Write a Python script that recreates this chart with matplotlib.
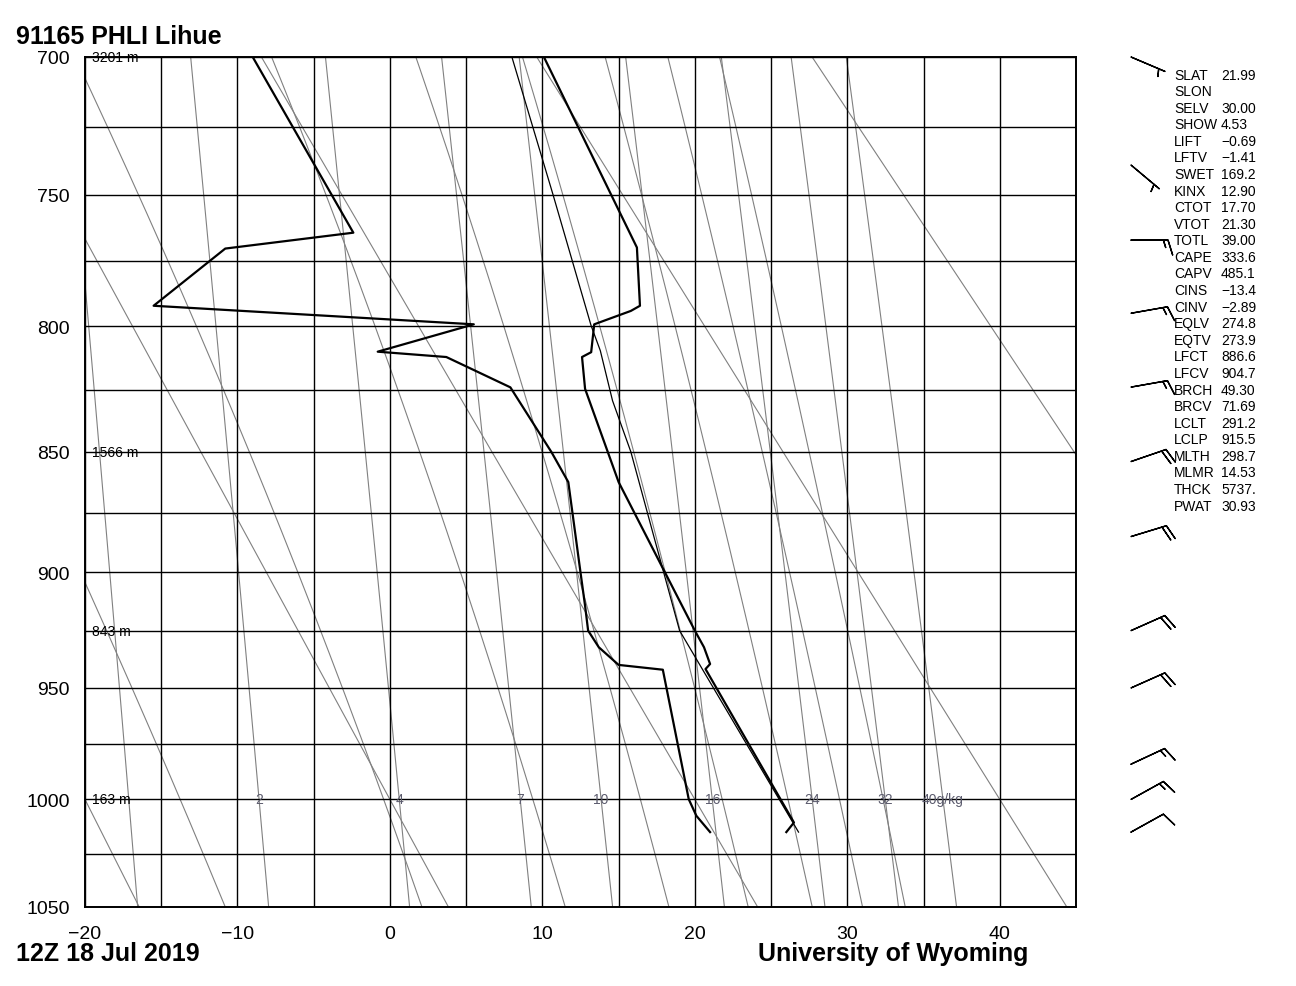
import numpy as np
import matplotlib.pyplot as plt

plt.rcParams['font.family'] = ['Liberation Sans', 'DejaVu Sans']

# sounding (hPa, degC)
pres_t = [700, 769.8, 792.1, 794.1, 799.3, 810.2, 812.1, 824.7, 862.4, 925.0, 932.2, 939.5, 941.7, 1010.6, 1015]
temp = [10.1, 16.2, 16.4, 15.8, 13.4, 13.2, 12.6, 12.8, 15.0, 20.0, 20.6, 21.0, 20.7, 26.5, 26.0]

pres_td = [700, 764.2, 770.2, 792.1, 799.3, 810.0, 812.1, 824.1, 850.2, 862.4, 900.1, 914.3, 925.0,
           932.2, 939.9, 942.0, 999.9, 1007.5, 1015]
dwpt = [-9.0, -2.4, -10.8, -15.5, 5.5, -0.8, 3.7, 7.9, 10.6, 11.7, 12.5, 12.8, 13.0,
        13.7, 15.0, 17.9, 19.6, 20.1, 21.0]

# lifted parcel (thin line)
pres_parcel = [1015, 925, 884.7, 850, 829.4, 809.6, 799.9, 750, 700]
temp_parcel = [26.8, 19.0, 17.3, 15.8, 14.6, 13.8, 13.2, 10.7, 8.0]

# winds
barb_p = [700, 739, 767, 795, 824, 854, 885, 925, 950, 984, 1000, 1015]
barb_dir = [113, 130, 90, 80, 80, 71, 73, 66, 66, 65, 61, 61]
barb_spd = [5, 5, 15, 15, 15, 20, 20, 20, 20, 15, 15, 10]

# height labels
hgt_p = [700, 850, 925, 1000]
hgt_lab = ['3201 m', '1566 m', '843 m', '163 m']

# background lines
theta_dry = [-20, 0, 20, 40, 60]             # degC
moist_t1050 = [-10.8, 2.1, 11.5, 18.3, 23.5, 27.7, 31.0, 33.8]  # degC at 1050 hPa
mixr = [1, 2, 4, 7, 10, 16, 24, 32, 40]       # g/kg
mixr_lab = ['', '2', '4', '7', '10', '16', '24', '32', '40g/kg']

# station parameters
names = ['SLAT', 'SLON', 'SELV', 'SHOW', 'LIFT', 'LFTV', 'SWET', 'KINX', 'CTOT', 'VTOT', 'TOTL',
         'CAPE', 'CAPV', 'CINS', 'CINV', 'EQLV', 'EQTV', 'LFCT', 'LFCV', 'BRCH', 'BRCV', 'LCLT',
         'LCLP', 'MLTH', 'MLMR', 'THCK', 'PWAT']
values = ['21.99', '', '30.00', '4.53', '\u22120.69', '\u22121.41', '169.2', '12.90', '17.70',
          '21.30', '39.00', '333.6', '485.1', '\u221213.4', '\u22122.89', '274.8', '273.9',
          '886.6', '904.7', '49.30', '71.69', '291.2', '915.5', '298.7', '14.53', '5737.', '30.93']

KAP = 0.286


def fwd(p):
    p = np.asarray(p, dtype=float)
    return np.sign(p) * np.abs(p) ** KAP


def inv(y):
    y = np.asarray(y, dtype=float)
    return np.sign(y) * np.abs(y) ** (1 / KAP)


def td_from_w(w, p):
    e = w / 1000 * p / (0.622 + w / 1000)
    a = np.log(e / 6.112)
    return 243.5 * a / (17.67 - a)


def moist_lapse(T, p):
    Rd, cp, Lv, eps = 287.04, 1005.7, 2.501e6, 0.622
    es = 6.112 * np.exp(17.67 * (T - 273.15) / (T - 29.65))
    rs = eps * es / (p - es)
    return (Rd * T + Lv * rs) / (p * (cp + Lv * Lv * rs * eps / (Rd * T * T)))


W, H = 1296, 987
fig = plt.figure(figsize=(W / 100, H / 100), dpi=100)
L, R, T0, B = 85, 1076, 58, 908
ax = fig.add_axes([L / W, 1 - B / H, (R - L) / W, (B - T0) / H])
ax.set_yscale('function', functions=(fwd, inv))
ax.set_ylim(1050, 700)
ax.set_xlim(-20, 45)

plev = np.linspace(1050, 690, 361)
gray = dict(color='#808080', lw=0.8, zorder=1)

for th in theta_dry:
    ax.plot((th + 273.15) * (plev / 1000) ** KAP - 273.15, plev, **gray)

for w in mixr:
    ax.plot(td_from_w(w, plev), plev, **gray)

for t0 in moist_t1050:
    tk = [t0 + 273.15]
    for p0, p1 in zip(plev[:-1], plev[1:]):
        dp = p1 - p0
        k1 = moist_lapse(tk[-1], p0)
        k2 = moist_lapse(tk[-1] + k1 * dp / 2, p0 + dp / 2)
        tk.append(tk[-1] + k2 * dp)
    ax.plot(np.array(tk) - 273.15, plev, **gray)

ax.plot(temp_parcel, pres_parcel, color='black', lw=0.9, zorder=3)
ax.plot(temp, pres_t, color='black', lw=1.6, zorder=4)
ax.plot(dwpt, pres_td, color='black', lw=1.6, zorder=4)

# grid and ticks
ax.set_xticks(np.arange(-20, 41, 10))
ax.set_xticks(np.arange(-15, 46, 10), minor=True)
ax.set_yticks(np.arange(700, 1051, 50))
ax.set_yticks(np.arange(725, 1050, 50), minor=True)
ax.set_yticklabels([str(p) for p in range(700, 1051, 50)])
ax.grid(True, which='both', color='black', lw=1.0, zorder=2)
ax.tick_params(which='both', length=0, labelsize=14)
ax.tick_params(axis='y', pad=11)
ax.tick_params(axis='x', pad=13)
for s in ax.spines.values():
    s.set_linewidth(1.4)
    s.set_zorder(5)

lab_col = '#5c5c6e'
for w, lab in zip(mixr, mixr_lab):
    if lab:
        ax.text(td_from_w(w, 1000.0), 1000, lab, ha='center', va='center', fontsize=10,
                color=lab_col, zorder=6)

for p, lab in zip(hgt_p, hgt_lab):
    ax.text(0.0068, p, lab, transform=ax.get_yaxis_transform(), ha='left', va='center',
            fontsize=10, zorder=6)

# wind barbs column
bx0, bw = 1120, 80
bax = fig.add_axes([bx0 / W, 1 - B / H, bw / W, (B - T0) / H], sharey=ax)
bax.set_xlim(0, 1)
bax.axis('off')
rad = np.deg2rad(barb_dir)
u = -np.array(barb_spd) * np.sin(rad)
v = -np.array(barb_spd) * np.cos(rad)
bax.barbs(np.full(len(barb_p), (1131 - bx0) / bw), barb_p, u, v, length=7.3,
          linewidth=1.0, color='black', clip_on=False)

# station parameter list
for i, (n, val) in enumerate(zip(names, values)):
    y = 1 - (75.5 + i * 16.58) / H
    fig.text(1174 / W, y, n, ha='left', va='center', fontsize=10)
    fig.text(1221 / W, y, val, ha='left', va='center', fontsize=10)

fig.text(16 / W, 1 - 37 / H, '91165 PHLI Lihue', fontsize=18, fontweight='bold', va='center')
fig.text(16 / W, 1 - 954 / H, '12Z 18 Jul 2019', fontsize=18, fontweight='bold', va='center')
fig.text(758 / W, 1 - 954 / H, 'University of Wyoming', fontsize=18, fontweight='bold', va='center')

fig.savefig('out.png', dpi=100)
